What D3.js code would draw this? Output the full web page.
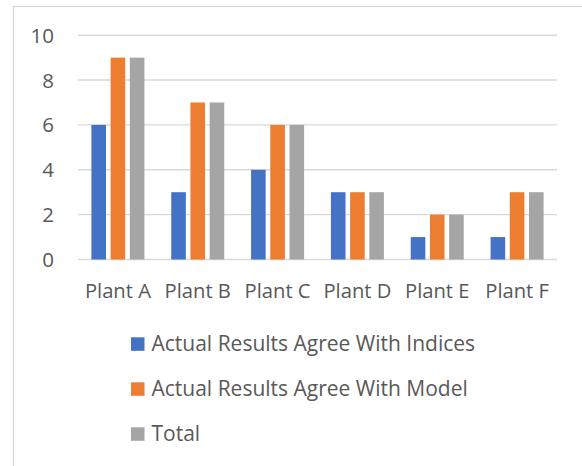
<!DOCTYPE html>
<html><head><meta charset="utf-8">
<script src="https://cdn.jsdelivr.net/npm/d3@7"></script>
<style>body{margin:0;background:#fff}svg{display:block}text{font-family:"Open Sans",sans-serif;fill:#595959}</style>
</head><body><svg id="c" width="582" height="466"></svg>
<script>
const categories = ["Plant A","Plant B","Plant C","Plant D","Plant E","Plant F"];
const seriesNames = ["Actual Results Agree With Indices","Actual Results Agree With Model","Total"];
const indices = [6,3,4,3,1,1];
const model = [9,7,6,3,2,3];
const total = [9,7,6,3,2,3];
const yTicks = [0,2,4,6,8,10];
const colors = ["#4472C4","#ED7D31","#A5A5A5"];
const seriesValues = [indices, model, total];

const svg = d3.select("#c");
svg.append("rect").attr("x",13.5).attr("y",6.5).attr("width",620).attr("height",520)
  .attr("fill","#fff").attr("stroke","#d9d9d9").attr("stroke-width",1.2);

const x = d3.scaleBand().domain(categories).range([78,557]);
const y = d3.scaleLinear().domain([0,10]).range([259.5,35.2]);
const inner = d3.scaleBand().domain(seriesNames).range([-26.5,26.5]).paddingInner(0.24).paddingOuter(0);

const grid = svg.append("g");
grid.selectAll("line").data(yTicks).join("line")
  .attr("x1",78).attr("x2",557).attr("y1",d=>y(d)).attr("y2",d=>y(d))
  .attr("stroke","#d9d9d9").attr("stroke-width",1.4);

const yAxis = svg.append("g").attr("transform","translate(54,0)")
  .call(d3.axisLeft(y).tickValues(yTicks).tickSize(0).tickPadding(0));
yAxis.select(".domain").remove();
yAxis.selectAll("text").attr("font-size",20.5).attr("dy","0.34em").attr("fill","#595959").style("font-family","'Open Sans',sans-serif");

seriesNames.forEach((s,i)=>{
  svg.append("g").selectAll("rect").data(categories).join("rect")
    .attr("x",(c)=>x(c)+x.bandwidth()/2+inner(s))
    .attr("width",inner.bandwidth())
    .attr("y",(c,j)=>y(seriesValues[i][j]))
    .attr("height",(c,j)=>y(0)-y(seriesValues[i][j]))
    .attr("fill",colors[i]);
});

const xAxis = svg.append("g").attr("transform","translate(0,259.5)")
  .call(d3.axisBottom(x).tickSize(0).tickPadding(0));
xAxis.select(".domain").remove();
xAxis.selectAll("text").attr("dy",null).attr("y",38.5).attr("font-size",20.2)
  .attr("fill","#595959").style("font-family","'Open Sans',sans-serif");

const leg = svg.append("g").selectAll("g").data(seriesNames).join("g")
  .attr("transform",(d,i)=>`translate(131,${337.3+i*45})`);
leg.append("rect").attr("width",13.5).attr("height",13.5).attr("fill",(d,i)=>colors[i]);
leg.append("text").attr("x",20.5).attr("y",14).attr("font-size",21).text(d=>d);
</script></body></html>
